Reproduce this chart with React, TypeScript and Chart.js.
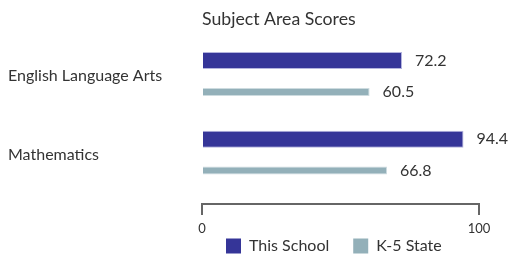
import React, { useEffect, useRef } from "react";
import { Chart, registerables } from "chart.js";

Chart.register(...registerables);

const chartTitle = "Subject Area Scores";
const categories = ["English Language Arts", "Mathematics"];
const seriesNames = ["This School", "K-5 State"];
const schoolScores = [72.2, 94.4];
const stateScores = [60.5, 66.8];
const axisTicks = [0, 100];

const FONT = "Lato, 'Noto Sans', sans-serif";

export default function App() {
  const ref = useRef<HTMLCanvasElement>(null);

  useEffect(() => {
    if (!ref.current) return;
    Chart.defaults.font.family = FONT;

    const valueLabels = {
      id: "valueLabels",
      afterDatasetsDraw(chart: any) {
        const ctx = chart.ctx;
        ctx.save();
        ctx.font = `16px ${FONT}`;
        ctx.fillStyle = "#333333";
        ctx.textBaseline = "middle";
        ctx.textAlign = "left";
        chart.data.datasets.forEach((ds: any, di: number) => {
          const meta = chart.getDatasetMeta(di);
          meta.data.forEach((el: any, i: number) => {
            const v = ds.data[i].x;
            ctx.fillText(v.toFixed(1), el.x + 13, el.y);
          });
        });
        ctx.restore();
      },
    };

    const chart = new Chart(ref.current, {
      type: "bar",
      data: {
        datasets: [
          {
            label: seriesNames[0],
            data: schoolScores.map((v, i) => ({ x: v, y: i })),
            backgroundColor: "#353598",
            borderColor: "#b4b4de",
            borderWidth: 1,
            barPercentage: 0.54,
            categoryPercentage: 0.8,
          },
          {
            label: seriesNames[1],
            data: stateScores.map((v, i) => ({ x: v, y: i })),
            backgroundColor: "#93b0b9",
            borderColor: "#cddbdf",
            borderWidth: 1,
            barPercentage: 0.255,
            categoryPercentage: 0.8,
          },
        ],
      } as any,
      options: {
        indexAxis: "y",
        animation: false,
        responsive: true,
        maintainAspectRatio: false,
        layout: { padding: { left: 8, right: 29, top: 0, bottom: -10 } },
        scales: {
          x: {
            type: "linear",
            min: axisTicks[0],
            max: axisTicks[axisTicks.length - 1],
            afterBuildTicks: (s: any) => {
              s.ticks = axisTicks.map((v) => ({ value: v }));
            },
            ticks: { font: { size: 13 }, color: "#333333", padding: 6 },
            grid: {
              drawOnChartArea: false,
              drawTicks: true,
              tickLength: 11,
              color: "#666666",
              lineWidth: 2,
            },
            border: { display: true, color: "#666666", width: 2 },
            afterFit: (s: any) => {
              s.height = 10;
              s._computeLabelArea = () => undefined;
            },
          },
          y: {
            type: "linear",
            reverse: true,
            offset: false,
            min: -0.51,
            max: 1.625,
            afterBuildTicks: (s: any) => {
              s.ticks = categories.map((_, i) => ({ value: i }));
            },
            ticks: {
              callback: (v: any) => categories[v as number],
              font: { size: 16 },
              color: "#333333",
              crossAlign: "far",
            },
            grid: { display: false, offset: false },
            border: { display: false },
            afterFit: (s: any) => {
              s.width = 194;
            },
          },
        },
        plugins: {
          title: {
            display: true,
            text: chartTitle,
            align: "start",
            fullSize: false,
            color: "#333333",
            font: { size: 17.7, weight: "normal" },
            padding: { top: 9, bottom: 6 },
          },
          legend: {
            display: true,
            position: "bottom",
            align: "start",
            fullSize: false,
            labels: {
              boxWidth: 15,
              boxHeight: 15,
              padding: 24,
              color: "#333333",
              font: { size: 16 },
              generateLabels: (chart: any) =>
                Chart.defaults.plugins.legend.labels
                  .generateLabels(chart)
                  .map((l: any) => ({ ...l, lineWidth: 0, strokeStyle: l.fillStyle })),
            },
          },
          tooltip: { enabled: false },
        },
      } as any,
      plugins: [valueLabels],
    });

    return () => chart.destroy();
  }, []);

  return (
    <div style={{ position: "absolute", left: 0, top: 0, width: 508, height: 254 }}>
      <canvas ref={ref} />
    </div>
  );
}
